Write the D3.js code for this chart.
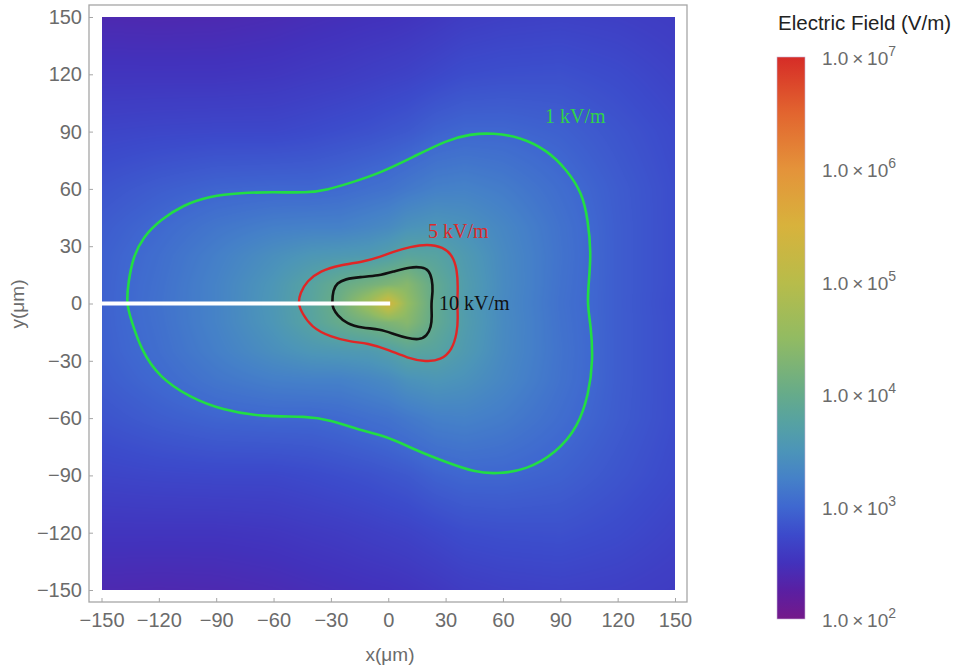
<!DOCTYPE html>
<meta charset="utf-8">
<script src="https://d3js.org/d3.v7.min.js"></script>
<style>
  body { margin: 0; background: #fff; }
  svg { display: block; }
</style>
<div id="viz"></div>
<script>

// axis ticks (micrometres)
var xTicks = [-150, -120, -90, -60, -30, 0, 30, 60, 90, 120, 150];
var yTicks = [-150, -120, -90, -60, -30, 0, 30, 60, 90, 120, 150];
var barDecades = [2, 3, 4, 5, 6, 7];

var gridX = [-150, -120, -90, -60, -40, -25, -10, 0, 10, 25, 40, 60, 90, 120, 150];
var gridY = [150, 120, 90, 60, 40, 25, 10, 0, -10, -25, -40, -60, -90, -120, -150];
var logE = [
  [2.39, 2.38, 2.39, 2.42, 2.45, 2.47, 2.49, 2.50, 2.52, 2.56, 2.61, 2.64, 2.66, 2.64, 2.60],
  [2.53, 2.53, 2.53, 2.55, 2.58, 2.60, 2.63, 2.65, 2.67, 2.72, 2.77, 2.79, 2.80, 2.75, 2.67],
  [2.69, 2.71, 2.72, 2.72, 2.75, 2.78, 2.81, 2.84, 2.87, 2.95, 2.99, 2.99, 2.94, 2.84, 2.74],
  [2.83, 2.91, 2.97, 2.99, 2.99, 3.02, 3.07, 3.10, 3.16, 3.24, 3.26, 3.20, 3.05, 2.90, 2.77],
  [2.90, 3.01, 3.14, 3.23, 3.25, 3.25, 3.31, 3.36, 3.46, 3.52, 3.46, 3.32, 3.10, 2.91, 2.77],
  [2.93, 3.06, 3.23, 3.42, 3.53, 3.56, 3.59, 3.67, 3.81, 3.77, 3.59, 3.36, 3.11, 2.91, 2.77],
  [2.94, 3.08, 3.27, 3.52, 3.77, 4.00, 4.16, 4.27, 4.37, 3.93, 3.64, 3.37, 3.10, 2.91, 2.77],
  [2.94, 3.09, 3.27, 3.54, 3.80, 4.11, 4.71, 5.40, 4.53, 3.93, 3.62, 3.36, 3.09, 2.91, 2.76],
  [2.94, 3.08, 3.27, 3.52, 3.77, 4.00, 4.16, 4.27, 4.37, 3.93, 3.64, 3.37, 3.10, 2.91, 2.77],
  [2.93, 3.06, 3.23, 3.42, 3.53, 3.56, 3.59, 3.67, 3.81, 3.77, 3.59, 3.36, 3.11, 2.91, 2.77],
  [2.90, 3.01, 3.14, 3.23, 3.25, 3.25, 3.31, 3.36, 3.46, 3.52, 3.46, 3.32, 3.10, 2.91, 2.77],
  [2.83, 2.91, 2.97, 2.99, 2.99, 3.02, 3.07, 3.10, 3.16, 3.24, 3.26, 3.20, 3.05, 2.90, 2.77],
  [2.69, 2.71, 2.72, 2.72, 2.75, 2.78, 2.81, 2.84, 2.87, 2.95, 2.99, 2.99, 2.94, 2.84, 2.74],
  [2.53, 2.53, 2.53, 2.55, 2.58, 2.60, 2.63, 2.65, 2.67, 2.72, 2.77, 2.79, 2.80, 2.75, 2.67],
  [2.39, 2.38, 2.39, 2.42, 2.45, 2.47, 2.49, 2.50, 2.52, 2.56, 2.61, 2.64, 2.66, 2.64, 2.60]
];

// colour function (log10 E -> colour)
var colorStops = [2, 2.25, 2.5, 2.75, 3, 3.25, 3.5, 3.75, 4, 4.5, 5, 5.5, 6, 6.5, 7];
var colorHex = ["#74198a", "#5a1fa2", "#4232bc", "#3c4acb", "#3f68d0", "#4581c8", "#4c95b8",
                "#56a2a2", "#66ab8a", "#92bb62", "#b8bc4a", "#d8b23c", "#e4933a", "#e2652f", "#d62c27"];

// contour lines (x, y in micrometres)
var contour1k = [[-137,0],[-136,11],[-133.5,24.3],[-128.2,34.8],[-119.3,43.7],[-107.3,51.6],[-93.2,56.3],
  [-77.5,57.9],[-60.3,58.4],[-42.5,57.9],[-32,59.4],[-18.4,63.6],[-4.3,68.3],[13,76.7],[30.8,85.6],
  [42.8,88.7],[54.8,89.3],[68.9,87.2],[83,80.4],[93.5,69.9],[101.4,57.9],[104.5,43.7],[106.1,26.4],
  [105,12.3],[104,0],[106.1,-12.3],[107.1,-29.6],[105,-46.9],[99.3,-64.7],[87.8,-78.3],[72.1,-87.2],
  [56.4,-89.3],[44.9,-88.2],[31.3,-83.5],[14,-76.7],[0.4,-69.9],[-15.3,-66.2],[-30.4,-61],[-42.5,-58.9],
  [-65.5,-59.4],[-86.9,-55.8],[-104.2,-49],[-119.9,-38.5],[-129.3,-24.3],[-134.5,-8.6]];
var contour5k = [[-47.2,0],[-46.1,5.5],[-42.5,11.8],[-35.7,17],[-25.2,20.2],[-13.7,21.7],[-4.3,24.3],
  [3.6,27.5],[11.4,29.6],[20.3,31.2],[28.7,29.6],[33.9,24.9],[36,17.5],[36.5,8.6],[36,0],[36.5,-7.1],
  [36,-15.4],[33.4,-24.3],[27.6,-29.6],[19.8,-30.6],[9.8,-28.5],[0.4,-24.3],[-11.1,-20.7],[-19,-20.2],
  [-30.4,-17.5],[-40.3,-12.3],[-45.1,-5]];
var contour10k = [[-29.4,0],[-28.9,7.1],[-26.8,10.7],[-22.6,12.8],[-14.7,13.9],[-5.3,14.4],[3.6,17],
  [11.4,19.1],[17.7,19.1],[21.3,17.5],[22.9,12.8],[23.4,6.5],[22.4,0],[22.9,-6.8],[22.4,-12.3],
  [20.3,-17],[16.1,-19.1],[9.8,-18.1],[3,-16],[-4.3,-13.4],[-13.7,-12.8],[-21.6,-10.7],[-26.8,-6],[-28.9,-2.4]];

// electrode line
var electrode = [[-150, 0], [1, 0]];

var width = 953, height = 670;
var frame = {left: 89, top: 5, right: 687, bottom: 602};

var svg = d3.select("#viz").append("svg")
  .attr("width", width)
  .attr("height", height);

var x = d3.scaleLinear().domain([-150, 150]).range([101.5, 675]);
var y = d3.scaleLinear().domain([-150, 150]).range([590, 17]);

var color = d3.scaleLinear().domain(colorStops).range(colorHex).clamp(true);

// bilinear read of the grid
function fieldAt(px, py) {
  var i = d3.bisectRight(gridX, px) - 1;
  i = Math.max(0, Math.min(gridX.length - 2, i));
  var tx = (px - gridX[i]) / (gridX[i + 1] - gridX[i]);
  var j = 0;
  while (j < gridY.length - 2 && py < gridY[j + 1]) j++;
  var ty = (gridY[j] - py) / (gridY[j] - gridY[j + 1]);
  var a = logE[j][i], b = logE[j][i + 1], c = logE[j + 1][i], d = logE[j + 1][i + 1];
  return (a * (1 - tx) + b * tx) * (1 - ty) + (c * (1 - tx) + d * tx) * ty;
}

// density image
var x0 = Math.round(x(-150)), x1 = Math.round(x(150));
var y0 = Math.round(y(150)), y1 = Math.round(y(-150));
var cw = x1 - x0, ch = y1 - y0;
var canvas = document.createElement("canvas");
canvas.width = cw; canvas.height = ch;
var ctx = canvas.getContext("2d");
var img = ctx.createImageData(cw, ch);
var lut = d3.range(0, 1001).map(function (k) { return d3.rgb(color(2 + 5 * k / 1000)); });
for (var r = 0; r < ch; r++) {
  var vy = y.invert(y0 + r + 0.5);
  for (var c = 0; c < cw; c++) {
    var vx = x.invert(x0 + c + 0.5);
    var v = fieldAt(vx, vy);
    var col = lut[Math.max(0, Math.min(1000, Math.round((v - 2) / 5 * 1000)))];
    var o = (r * cw + c) * 4;
    img.data[o] = col.r; img.data[o + 1] = col.g; img.data[o + 2] = col.b; img.data[o + 3] = 255;
  }
}
ctx.putImageData(img, 0, 0);

svg.append("image")
  .attr("x", x0).attr("y", y0)
  .attr("width", cw).attr("height", ch)
  .attr("preserveAspectRatio", "none")
  .attr("href", canvas.toDataURL());

// frame
svg.append("rect")
  .attr("x", frame.left).attr("y", frame.top)
  .attr("width", frame.right - frame.left)
  .attr("height", frame.bottom - frame.top)
  .attr("fill", "none")
  .attr("stroke", "#a6a6a6")
  .attr("stroke-width", 1.3);

var fmt = function (d) { return d < 0 ? "\u2212" + Math.abs(d) : String(d); };

var xAxis = svg.append("g")
  .attr("transform", "translate(0," + frame.bottom + ")")
  .call(d3.axisBottom(x).tickValues(xTicks).tickFormat(fmt).tickSize(-4).tickPadding(11));
var yAxis = svg.append("g")
  .attr("transform", "translate(" + frame.left + ",0)")
  .call(d3.axisLeft(y).tickValues(yTicks).tickFormat(fmt).tickSize(-4).tickPadding(7));
[xAxis, yAxis].forEach(function (g) {
  g.select(".domain").remove();
  g.selectAll(".tick line").attr("stroke", "#a6a6a6");
  g.selectAll(".tick text")
    .attr("fill", "#6b6b6b")
    .style("font-family", "'Liberation Sans', Arial, sans-serif")
    .style("font-size", "20px");
});

// axis labels
svg.append("text")
  .attr("x", 390).attr("y", 661)
  .attr("text-anchor", "middle")
  .attr("fill", "#6b6b6b")
  .style("font-family", "'Liberation Sans', Arial, sans-serif")
  .style("font-size", "19px")
  .text("x(\u03bcm)");
svg.append("text")
  .attr("transform", "translate(24,304) rotate(-90)")
  .attr("text-anchor", "middle")
  .attr("fill", "#6b6b6b")
  .style("font-family", "'Liberation Sans', Arial, sans-serif")
  .style("font-size", "19px")
  .text("y(\u03bcm)");

// contours
var line = d3.line()
  .x(function (d) { return x(d[0]); })
  .y(function (d) { return y(d[1]); })
  .curve(d3.curveBasisClosed);

svg.append("path").attr("d", line(contour1k))
  .attr("fill", "none").attr("stroke", "#22dd44").attr("stroke-width", 2.6);
svg.append("path").attr("d", line(contour5k))
  .attr("fill", "none").attr("stroke", "#e02626").attr("stroke-width", 2.4);
svg.append("path").attr("d", line(contour10k))
  .attr("fill", "none").attr("stroke", "#111111").attr("stroke-width", 2.6);

svg.append("line")
  .attr("x1", x(electrode[0][0])).attr("y1", y(electrode[0][1]))
  .attr("x2", x(electrode[1][0])).attr("y2", y(electrode[1][1]))
  .attr("stroke", "#ffffff").attr("stroke-width", 4);

// contour labels
var labels = [
  {t: "1 kV/m", x: 82, y: 94.5, c: "#2fd24a"},
  {t: "5 kV/m", x: 20.8, y: 34.3, c: "#dc2a2a"},
  {t: "10 kV/m", x: 26.6, y: -3.4, c: "#111111"}
];
svg.selectAll(".clabel").data(labels).join("text")
  .attr("class", "clabel")
  .attr("x", function (d) { return x(d.x); })
  .attr("y", function (d) { return y(d.y); })
  .attr("fill", function (d) { return d.c; })
  .style("font-family", "'Liberation Serif', 'Times New Roman', serif")
  .style("font-size", "20px")
  .text(function (d) { return d.t; });

// colour bar
var bar = {x: 777, w: 28};
var cy = d3.scaleLog().domain([1e2, 1e7]).range([619, 57]);

var grad = svg.append("defs").append("linearGradient")
  .attr("id", "rainbow")
  .attr("x1", 0).attr("y1", 1).attr("x2", 0).attr("y2", 0);
grad.selectAll("stop").data(colorStops).join("stop")
  .attr("offset", function (d) { return (d - 2) / 5; })
  .attr("stop-color", function (d, i) { return colorHex[i]; });

svg.append("rect")
  .attr("x", bar.x).attr("y", cy(1e7))
  .attr("width", bar.w).attr("height", cy(1e2) - cy(1e7))
  .attr("fill", "url(#rainbow)")
  .attr("stroke", "#c9b6d6").attr("stroke-width", 0.6);

var tl = svg.selectAll(".blabel").data(barDecades).join("text")
  .attr("class", "blabel")
  .attr("x", 822)
  .attr("y", function (d) { return cy(Math.pow(10, d)) + 8; })
  .attr("fill", "#6b6b6b")
  .style("font-family", "'Liberation Sans', Arial, sans-serif")
  .style("font-size", "19px");
tl.append("tspan").text("1.0\u2009\u00d7\u200910");
tl.append("tspan")
  .attr("dy", -9)
  .style("font-size", "14px")
  .text(function (d) { return d; });

svg.append("text")
  .attr("x", 778).attr("y", 30)
  .attr("fill", "#222222")
  .style("font-family", "'Liberation Sans', Arial, sans-serif")
  .style("font-size", "20.5px")
  .text("Electric Field (V/m)");

</script>
